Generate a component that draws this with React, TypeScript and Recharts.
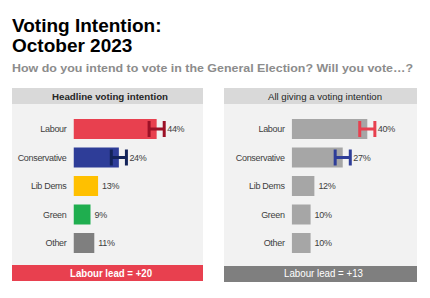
import { BarChart, Bar, XAxis, YAxis, Cell, ErrorBar, LabelList } from 'recharts';

const parties = ['Labour', 'Conservative', 'Lib Dems', 'Green', 'Other'];
const headlineShare = [44, 24, 13, 9, 11];
const allGivingShare = [40, 27, 12, 10, 10];
const marginOfError = [4, 4, 0, 0, 0];
const headlineLead = '+20';
const allGivingLead = '+13';

const FONT = '"Liberation Sans", Arial, sans-serif';
const partyColors = ['#e8404f', '#2e3d98', '#ffc000', '#1fae4f', '#7f7f7f'];
const greyBar = '#a6a6a6';

const buildRows = (shares: number[]) =>
  parties.map((party, i) => ({
    party,
    share: shares[i],
    moe: marginOfError[i],
    labErr: party === 'Labour' ? marginOfError[i] : null,
    conErr: party === 'Conservative' ? marginOfError[i] : null,
  }));

const headlineRows = buildRows(headlineShare);
const allGivingRows = buildRows(allGivingShare);

const valueLabel = (rows: any[]) => (props: any) => {
  const { x, y, width, height, value, index } = props;
  const err = rows[index]?.moe ?? 0;
  const reach = Number(x) + Number(width) * (1 + err / Number(value));
  return (
    <text
      x={reach + (err ? 3 : 4)}
      y={Number(y) + Number(height) / 2}
      dy="0.35em"
      fontSize={9}
      letterSpacing={-0.3}
      fill="#404040"
      fontFamily={FONT}
    >
      {value}%
    </text>
  );
};

// plain tick so "Lib Dems" stays on one line
const partyTick = (props: any) => (
  <text
    x={props.x}
    y={props.y}
    dy="0.35em"
    textAnchor="end"
    fontSize={9}
    letterSpacing={-0.3}
    fill="#404040"
    fontFamily={FONT}
  >
    {props.payload.value}
  </text>
);

interface PanelChartProps {
  rows: any[];
  left: number;
  axisWidth: number;
  colors: string[];
  labColor: string;
  conColor: string;
}

function PanelChart({ rows, left, axisWidth, colors, labColor, conColor }: PanelChartProps) {
  return (
    <div style={{ position: 'absolute', left, top: 114.75 }}>
      <BarChart
        width={axisWidth + 132.3}
        height={142.5}
        data={rows}
        layout="vertical"
        margin={{ top: 0, right: 0, bottom: 0, left: 0 }}
        barSize={20}
      >
        <XAxis type="number" domain={[0, 70]} hide allowDataOverflow />
        <YAxis
          type="category"
          dataKey="party"
          width={axisWidth}
          axisLine={false}
          tickLine={false}
          tickSize={0}
          tickMargin={7}
          tick={partyTick}
        />
        <Bar dataKey="share" isAnimationActive={false}>
          {rows.map((r, i) => (
            <Cell key={r.party} fill={colors[i]} />
          ))}
          <ErrorBar dataKey="labErr" direction="x" width={8} stroke={labColor} strokeWidth={3} />
          <ErrorBar dataKey="conErr" direction="x" width={8} stroke={conColor} strokeWidth={3} />
          <LabelList dataKey="share" content={valueLabel(rows)} />
        </Bar>
      </BarChart>
    </div>
  );
}

export default function App() {
  return (
    <div
      style={{
        position: 'absolute',
        left: 0,
        top: 0,
        width: 430,
        height: 298,
        background: '#ffffff',
        overflow: 'hidden',
        fontFamily: FONT,
      }}
    >
      <svg width={430} height={298} style={{ position: 'absolute', left: 0, top: 0 }}>
        <text x={12} y={32} fontSize={19} fontWeight="bold" fill="#000" fontFamily={FONT}>
          Voting Intention:
        </text>
        <text x={12} y={52} fontSize={19} fontWeight="bold" fill="#000" fontFamily={FONT}>
          October 2023
        </text>
        <text
          x={12}
          y={71.5}
          fontSize={11}
          fontWeight="bold"
          fill="#8c8c8c"
          fontFamily={FONT}
          textLength={401}
          lengthAdjust="spacingAndGlyphs"
        >
          How do you intend to vote in the General Election? Will you vote…?
        </text>

        {/* left panel */}
        <rect x={12} y={88} width={191} height={16} fill="#d9d9d9" />
        <rect x={12} y={104} width={191} height={161} fill="#f2f2f2" />
        <rect x={12} y={265} width={191} height={16} fill="#e8404f" />
        <text x={110} y={99.5} textAnchor="middle" fontSize={9} fontWeight="bold" fill="#262626"
          fontFamily={FONT} textLength={116} lengthAdjust="spacingAndGlyphs">
          Headline voting intention
        </text>
        <text x={111} y={276.5} textAnchor="middle" fontSize={10.5} fontWeight="bold" fill="#ffffff"
          fontFamily={FONT} textLength={82} lengthAdjust="spacingAndGlyphs">
          {`Labour lead = ${headlineLead}`}
        </text>

        {/* right panel */}
        <rect x={224} y={88} width={193} height={16} fill="#d9d9d9" />
        <rect x={224} y={104} width={193} height={162} fill="#f2f2f2" />
        <rect x={224} y={266} width={193} height={16} fill="#7f7f7f" />
        <text x={325} y={99.5} textAnchor="middle" fontSize={9} fill="#262626"
          fontFamily={FONT} textLength={114} lengthAdjust="spacingAndGlyphs">
          All giving a voting intention
        </text>
        <text x={323.5} y={277} textAnchor="middle" fontSize={10.5} fill="#ffffff"
          fontFamily={FONT} textLength={79} lengthAdjust="spacingAndGlyphs">
          {`Labour lead = ${allGivingLead}`}
        </text>
      </svg>

      <PanelChart
        rows={headlineRows}
        left={12}
        axisWidth={61.5}
        colors={partyColors}
        labColor="#9c1126"
        conColor="#14245a"
      />
      <PanelChart
        rows={allGivingRows}
        left={224}
        axisWidth={67.7}
        colors={parties.map(() => greyBar)}
        labColor="#e8404f"
        conColor="#2e3d98"
      />
    </div>
  );
}
